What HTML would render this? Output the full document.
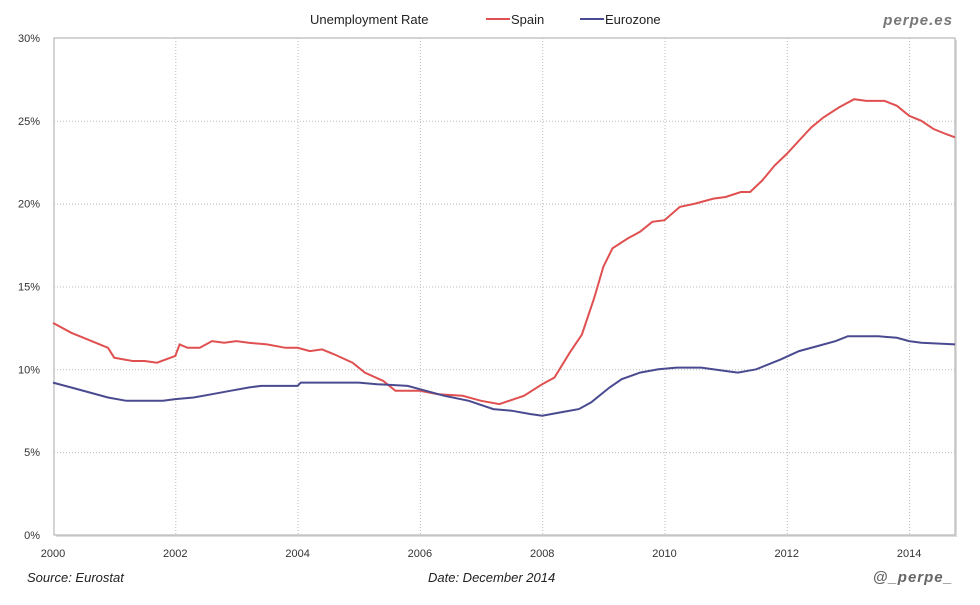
<!DOCTYPE html>
<html><head><meta charset="utf-8"><style>
body{margin:0;background:#fff;width:980px;height:600px;overflow:hidden;font-family:"Liberation Sans",sans-serif}
svg text{font-family:"Liberation Sans",sans-serif}
</style></head><body>
<svg id="s" width="980" height="600" xmlns="http://www.w3.org/2000/svg">
<rect x="56" y="40" width="901" height="497" fill="#ddd"/>
<rect x="54" y="38" width="901" height="497" fill="#fff" stroke="#aaa" stroke-width="1"/>
<g id="grid" stroke="#bbb" stroke-dasharray="1,2" stroke-width="1"></g>
<g id="lbl" font-size="11" fill="#333"></g>
<text x="310" y="24" font-size="13" fill="#222">Unemployment Rate</text>
<line x1="486" y1="19" x2="510" y2="19" stroke="#e05050" stroke-width="2"/>
<text x="511" y="24" font-size="13" fill="#222">Spain</text>
<line x1="580" y1="19" x2="604" y2="19" stroke="#4a4a90" stroke-width="2"/>
<text x="605" y="24" font-size="13" fill="#222">Eurozone</text>
<text x="953" y="25" font-size="15" font-weight="bold" font-style="italic" fill="#777" text-anchor="end" letter-spacing="1">perpe.es</text>
<text x="27" y="582" font-size="13" font-style="italic" fill="#222">Source: Eurostat</text>
<text x="428" y="582" font-size="13" font-style="italic" fill="#222">Date: December 2014</text>
<text x="953" y="582" font-size="15" font-weight="bold" font-style="italic" fill="#666" text-anchor="end" letter-spacing="1">@_perpe_</text>
<polyline id="es" fill="none" stroke="#e05050" stroke-width="2"/>
<polyline id="ez" fill="none" stroke="#4a4a90" stroke-width="2"/>
</svg>
<script>
var X=function(t){return 53+(t-2000)*61.15},Y=function(v){return 535-v*16.57};
var g=document.getElementById('grid'),l=document.getElementById('lbl'),ns="http://www.w3.org/2000/svg";
function el(p,n,a,t){var e=document.createElementNS(ns,n);for(var k in a)e.setAttribute(k,a[k]);if(t)e.textContent=t;p.appendChild(e);}
for(var v=5;v<30;v+=5)el(g,'line',{x1:54,x2:955,y1:Y(v)+.5,y2:Y(v)+.5});
for(var v=0;v<=30;v+=5)el(l,'text',{x:40,y:Y(v)+4,'text-anchor':'end'},v+'%');
for(var y=2000;y<=2014;y+=2){if(y>2000)el(g,'line',{x1:X(y)+.5,x2:X(y)+.5,y1:38,y2:535});el(l,'text',{x:X(y),y:557,'text-anchor':'middle'},''+y);}
var es=[2000,12.8,2000.3,12.2,2000.5,11.9,2000.9,11.3,2001.0,10.7,2001.3,10.5,2001.5,10.5,2001.7,10.4,2002.0,10.8,2002.07,11.5,2002.2,11.3,2002.4,11.3,2002.6,11.7,2002.8,11.6,2003.0,11.7,2003.2,11.6,2003.5,11.5,2003.8,11.3,2004.0,11.3,2004.2,11.1,2004.4,11.2,2004.6,10.9,2004.9,10.4,2005.1,9.8,2005.4,9.3,2005.6,8.7,2005.9,8.7,2006.0,8.7,2006.3,8.5,2006.7,8.4,2007.0,8.1,2007.3,7.9,2007.7,8.4,2008.0,9.1,2008.2,9.5,2008.45,11.0,2008.65,12.1,2008.85,14.3,2009.0,16.2,2009.15,17.3,2009.4,17.9,2009.6,18.3,2009.8,18.9,2010.0,19.0,2010.25,19.8,2010.5,20.0,2010.8,20.3,2011.0,20.4,2011.25,20.7,2011.4,20.7,2011.6,21.4,2011.8,22.3,2012.0,23.0,2012.3,24.2,2012.4,24.6,2012.6,25.2,2012.85,25.8,2013.1,26.3,2013.3,26.2,2013.6,26.2,2013.8,25.9,2014.0,25.3,2014.2,25.0,2014.4,24.5,2014.6,24.2,2014.75,24.0];
var ez=[2000,9.2,2000.3,8.9,2000.6,8.6,2000.9,8.3,2001.2,8.1,2001.8,8.1,2002.0,8.2,2002.3,8.3,2002.6,8.5,2002.9,8.7,2003.2,8.9,2003.4,9.0,2004.0,9.0,2004.05,9.2,2005.0,9.2,2005.3,9.1,2005.8,9.0,2006.0,8.8,2006.4,8.4,2006.8,8.1,2007.2,7.6,2007.5,7.5,2007.8,7.3,2008.0,7.2,2008.3,7.4,2008.6,7.6,2008.8,8.0,2009.1,8.9,2009.3,9.4,2009.6,9.8,2009.9,10.0,2010.2,10.1,2010.6,10.1,2011.0,9.9,2011.2,9.8,2011.5,10.0,2011.9,10.6,2012.2,11.1,2012.5,11.4,2012.8,11.7,2013.0,12.0,2013.5,12.0,2013.8,11.9,2014.0,11.7,2014.2,11.6,2014.75,11.5];
function pts(a){var s=[];for(var i=0;i<a.length;i+=2)s.push(X(a[i]).toFixed(1)+','+Y(a[i+1]).toFixed(1));return s.join(' ');}
document.getElementById('es').setAttribute('points',pts(es));
document.getElementById('ez').setAttribute('points',pts(ez));
</script>
</body></html>
